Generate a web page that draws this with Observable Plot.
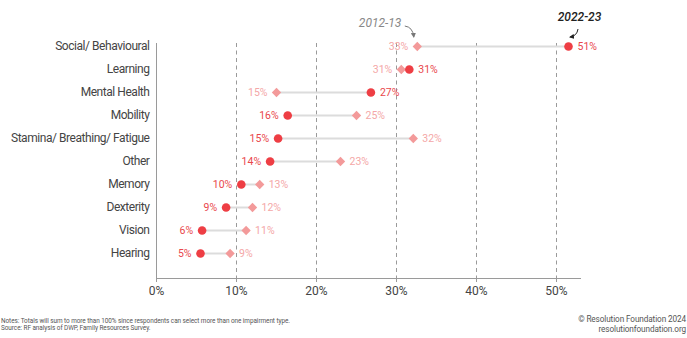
<!DOCTYPE html>
<html><head><meta charset="utf-8">
<script src="https://cdn.jsdelivr.net/npm/d3@7"></script>
<script src="https://cdn.jsdelivr.net/npm/@observablehq/plot@0.6"></script>
<style>
body{margin:0;background:#fff;font-family:Roboto, "Noto Sans", sans-serif;}
#wrap{position:relative;width:687px;height:338px;overflow:hidden;background:#fff;}
#wrap svg{display:block;}
.notes{position:absolute;left:1px;top:318px;font-size:6.4px;color:#555;line-height:7px;white-space:nowrap;letter-spacing:-0.05px}
.rf{position:absolute;right:1px;top:315px;font-size:8.2px;color:#555;text-align:right;line-height:9.5px;white-space:nowrap;letter-spacing:-0.1px}
</style></head><body><div id="wrap"></div>
<script>
const categories = ["Social/ Behavioural","Learning","Mental Health","Mobility","Stamina/ Breathing/ Fatigue","Other","Memory","Dexterity","Vision","Hearing"];
const values2012 = [32.6, 30.6, 15.0, 25.0, 32.1, 23.0, 12.9, 12.0, 11.2, 9.2];
const values2022 = [51.5, 31.6, 26.8, 16.4, 15.2, 14.2, 10.6, 8.7, 5.7, 5.5];
const labels2012 = ["33%","31%","15%","25%","32%","23%","13%","12%","11%","9%"];
const labels2022 = ["51%","31%","27%","16%","15%","14%","10%","9%","6%","5%"];
const xTicks = [0, 10, 20, 30, 40, 50];
const gridTicks = [10, 20, 30, 40, 50];
const seriesNames = ["2012-13", "2022-23"];

const RED = "#ee3e44", PINK = "#f39a9a", RED_T = "#e9474c", PINK_T = "#f4a7a7";

const rows = categories.map((c, i) => ({
  category: c, a: values2012[i], b: values2022[i], la: labels2012[i], lb: labels2022[i]
}));
const pts = [];
rows.forEach(r => {
  const aLeft = r.a <= r.b;
  pts.push({category: r.category, v: r.a, label: r.la, series: seriesNames[0], left: aLeft});
  pts.push({category: r.category, v: r.b, label: r.lb, series: seriesNames[1], left: !aLeft});
});
const p12 = pts.filter(d => d.series === seriesNames[0]);
const p22 = pts.filter(d => d.series === seriesNames[1]);
const ann = [
  {category: categories[0], v: values2012[0], text: seriesNames[0]},
  {category: categories[0], v: values2022[0], text: seriesNames[1]}
];

const chart = Plot.plot({
  width: 687,
  height: 305,
  marginLeft: 156,
  marginRight: 107,
  marginTop: 43,
  marginBottom: 27,
  style: {fontFamily: "Roboto, 'Noto Sans', sans-serif", background: "#fff"},
  x: {domain: [0, 53]},
  y: {type: "point", domain: categories, range: [44, 254], padding: 0},
  marks: [
    Plot.ruleX(gridTicks, {stroke: "#9a9a9a", strokeDasharray: "4,3.5", strokeWidth: 1}),
    Plot.frame({anchor: "left", stroke: "#9a9a9a"}),
    Plot.frame({anchor: "bottom", stroke: "#9a9a9a"}),
    Plot.axisX({ticks: xTicks, tickFormat: d => d + "%", tickSize: 4, tickPadding: 4, fontSize: 12, color: "#444", stroke: "#9a9a9a", label: null}),
    Plot.axisY({tickSize: 0, tickPadding: 7, fontSize: 12, color: "#444", label: null}),
    Plot.link(rows, {x1: "a", x2: "b", y1: "category", y2: "category", stroke: "#dcdcdc", strokeWidth: 2}),
    Plot.dot(p12, {x: "v", y: "category", symbol: "diamond2", fill: PINK, stroke: null, r: 4.2}),
    Plot.dot(p22, {x: "v", y: "category", symbol: "circle", fill: RED, r: 4.3}),
    Plot.text(p12.filter(d => d.left), {x: "v", y: "category", text: "label", textAnchor: "end", dx: -9, fill: PINK_T, fontSize: 10.5}),
    Plot.text(p12.filter(d => !d.left), {x: "v", y: "category", text: "label", textAnchor: "start", dx: 9, fill: PINK_T, fontSize: 10.5}),
    Plot.text(p22.filter(d => d.left), {x: "v", y: "category", text: "label", textAnchor: "end", dx: -9, fill: RED_T, fontSize: 10.5}),
    Plot.text(p22.filter(d => !d.left), {x: "v", y: "category", text: "label", textAnchor: "start", dx: 9, fill: RED_T, fontSize: 10.5}),
    Plot.text([ann[0]], {x: "v", y: "category", text: "text", textAnchor: "end", dx: -16, dy: -23, fill: "#888", fontSize: 12, fontStyle: "italic"}),
    Plot.text([ann[1]], {x: "v", y: "category", text: "text", textAnchor: "middle", dx: 11, dy: -29, fill: "#222", fontSize: 12, fontStyle: "italic", fontWeight: 500})
  ]
});

// tighten the category labels (the reference uses a narrow grotesque)
d3.select(chart).selectAll('g[aria-label="y-axis tick label"] text').attr("letter-spacing", "-0.45px");

// curved annotation arrows anchored to the data points via the plot's scales
const sx = chart.scale("x"), sy = chart.scale("y");
const svg = d3.select(chart);
const defs = svg.append("defs");
function marker(id, color) {
  defs.append("marker").attr("id", id).attr("viewBox", "0 0 10 10").attr("refX", 8).attr("refY", 5)
    .attr("markerWidth", 5).attr("markerHeight", 5).attr("orient", "auto-start-reverse")
    .append("path").attr("d", "M0,0L10,5L0,10z").attr("fill", color);
}
marker("ah1", "#777"); marker("ah2", "#222");
function arrow(d, s, e, c, color, id) {
  const px = sx.apply(d.v), py = sy.apply(d.category);
  const x1 = px + s[0], y1 = py + s[1], x2 = px + e[0], y2 = py + e[1];
  svg.append("path")
    .attr("d", `M${x1},${y1}Q${px + c[0]},${py + c[1]} ${x2},${y2}`)
    .attr("fill", "none").attr("stroke", color).attr("stroke-width", 1)
    .attr("marker-end", `url(#${id})`);
}
arrow(ann[0], [-12, -20], [-3, -9], [-4, -19], "#777", "ah1");
arrow(ann[1], [10, -17], [2, -9], [9, -10], "#222", "ah2");

const wrap = document.getElementById("wrap");
wrap.appendChild(chart);
const notes = document.createElement("div");
notes.className = "notes";
notes.innerHTML = "Notes: Totals will sum to more than 100% since respondents can select more than one impairment type.<br>Source: RF analysis of DWP, Family Resources Survey.";
wrap.appendChild(notes);
const rf = document.createElement("div");
rf.className = "rf";
rf.innerHTML = "© Resolution Foundation 2024<br>resolutionfoundation.org";
wrap.appendChild(rf);
</script>
</body></html>
